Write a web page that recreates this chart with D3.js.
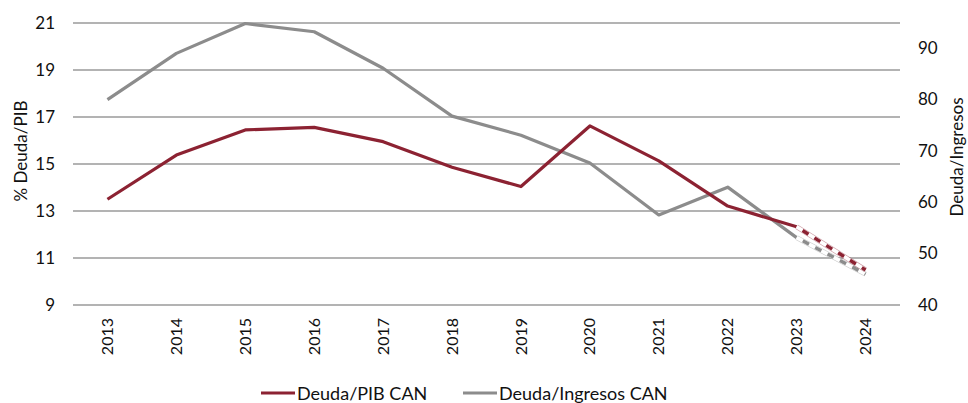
<!DOCTYPE html>
<html>
<head>
<meta charset="utf-8">
<script src="https://cdn.jsdelivr.net/npm/d3@7"></script>
<style>
  body { margin: 0; background: #fff; }
  text { font-family: "Lato", "Open Sans", sans-serif; fill: #111; }
</style>
</head>
<body>
<div id="chart"></div>
<script>
const years = ["2013","2014","2015","2016","2017","2018","2019","2020","2021","2022","2023","2024"];
const deudaPib = [13.5, 15.38, 16.45, 16.56, 15.95, 14.86, 14.04, 16.62, 15.13, 13.21, 12.33, 10.49];
const deudaIngresos = [79.9, 88.9, 94.7, 93.1, 86.0, 76.7, 73.0, 67.6, 57.5, 62.9, 53.1, 46.0];
const leftTicks = [9, 11, 13, 15, 17, 19, 21];
const rightTicks = [40, 50, 60, 70, 80, 90];
const projectedFrom = "2023"; // último tramo proyectado (línea discontinua)

const W = 968, H = 403;
const m = { left: 73, right: 68, top: 23, bottom: 98 };

const svg = d3.select("#chart").append("svg")
  .attr("width", W)
  .attr("height", H);

const x = d3.scaleBand()
  .domain(years)
  .range([m.left, W - m.right]);

const yL = d3.scaleLinear().domain([9, 21]).range([H - m.bottom, m.top]);
const yR = d3.scaleLinear().domain([40, 94.8]).range([H - m.bottom, m.top]);

const RED = "#8c2232", GREY = "#8c8c8c";

// rejilla
svg.append("g")
  .selectAll("line")
  .data(leftTicks)
  .enter().append("line")
  .attr("x1", m.left).attr("x2", W - m.right)
  .attr("y1", d => yL(d)).attr("y2", d => yL(d))
  .attr("stroke", "#9a9a9a")
  .attr("stroke-width", 1.3);

// eje izquierdo
const axL = svg.append("g")
  .attr("transform", `translate(${m.left},0)`)
  .call(d3.axisLeft(yL).tickValues(leftTicks).tickSize(0).tickPadding(18));
axL.select(".domain").remove();
axL.selectAll("text").style("font-size", "17px").style("font-family", "Lato, sans-serif");

// eje derecho
const axR = svg.append("g")
  .attr("transform", `translate(${W - m.right},0)`)
  .call(d3.axisRight(yR).tickValues(rightTicks).tickSize(0).tickPadding(18));
axR.select(".domain").remove();
axR.selectAll("text").style("font-size", "17px").style("font-family", "Lato, sans-serif");

// eje x
const axX = svg.append("g")
  .attr("transform", `translate(0,${H - m.bottom})`)
  .call(d3.axisBottom(x).tickSize(0).tickPadding(0));
axX.select(".domain").remove();
axX.selectAll("text")
  .style("font-size", "16px")
  .style("font-family", "Lato, sans-serif")
  .attr("text-anchor", "end")
  .attr("transform", "rotate(-90)")
  .attr("x", -13)
  .attr("y", 0)
  .attr("dy", "0.35em");

// títulos de ejes
svg.append("text")
  .attr("transform", "translate(27,151) rotate(-90)")
  .attr("text-anchor", "middle")
  .style("font-size", "17px")
  .text("% Deuda/PIB");

svg.append("text")
  .attr("transform", "translate(963,157) rotate(-90)")
  .attr("text-anchor", "middle")
  .style("font-size", "17px")
  .text("Deuda/Ingresos");

// líneas
function drawSeries(values, yScale, color) {
  const pts = years.map((yr, i) => ({ yr, v: values[i] }));
  const cut = years.indexOf(projectedFrom);
  const line = d3.line()
    .x(d => x(d.yr) + x.bandwidth() / 2)
    .y(d => yScale(d.v));

  svg.append("path")
    .datum(pts.slice(0, cut + 1))
    .attr("d", line)
    .attr("fill", "none")
    .attr("stroke", color)
    .attr("stroke-width", 3.2)
    .attr("stroke-linejoin", "round");

  const proj = pts.slice(cut);
  // borde fino
  svg.append("path").datum(proj).attr("d", line)
    .attr("fill", "none").attr("stroke", color).attr("stroke-opacity", 0.45)
    .attr("stroke-width", 5);
  svg.append("path").datum(proj).attr("d", line)
    .attr("fill", "none").attr("stroke", "#fff")
    .attr("stroke-width", 3.8);
  svg.append("path").datum(proj).attr("d", line)
    .attr("fill", "none").attr("stroke", color)
    .attr("stroke-width", 3.4)
    .attr("stroke-dasharray", "7,7")
    .attr("stroke-dashoffset", -7);
}

drawSeries(deudaIngresos, yR, GREY);
drawSeries(deudaPib, yL, RED);

// leyenda
const legend = [
  { name: "Deuda/PIB CAN", color: RED, x: 261 },
  { name: "Deuda/Ingresos CAN", color: GREY, x: 463 }
];
const lg = svg.append("g").selectAll("g")
  .data(legend)
  .enter().append("g")
  .attr("transform", d => `translate(${d.x},393)`);
lg.append("line")
  .attr("x1", 0).attr("x2", 34)
  .attr("stroke", d => d.color)
  .attr("stroke-width", 3.2);
lg.append("text")
  .attr("x", 36)
  .attr("y", 7)
  .style("font-size", "18px")
  .text(d => d.name);
</script>
</body>
</html>
